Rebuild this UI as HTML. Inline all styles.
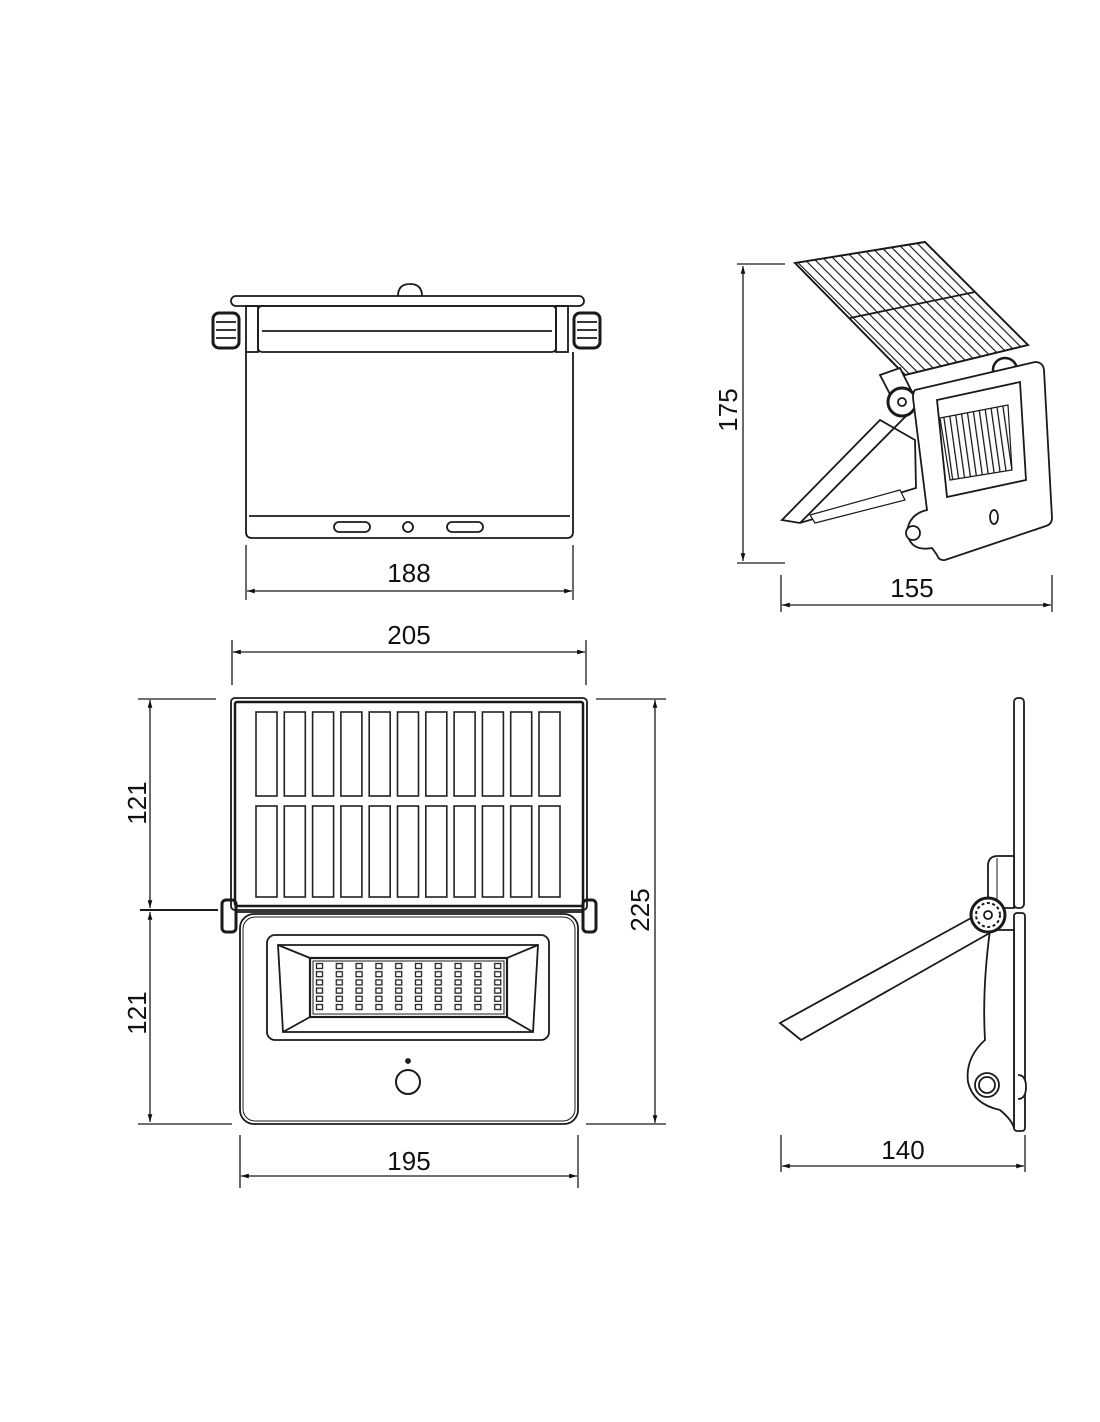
<!DOCTYPE html>
<html><head><style>
body{margin:0;background:#fff}
svg{display:block}
text{font-family:"Liberation Sans",sans-serif;font-size:26px;fill:#111}
</style></head><body>
<svg width="1100" height="1422" viewBox="0 0 1100 1422" xmlns="http://www.w3.org/2000/svg">
<defs>
<marker id="a" viewBox="0 0 10 10" refX="10" refY="5" markerWidth="8" markerHeight="6" orient="auto-start-reverse"><path d="M0,2 L10,5 L0,8z" fill="#111"/></marker>
<pattern id="leds" x="315" y="962" width="19.8" height="8.2" patternUnits="userSpaceOnUse"><rect x="1.5" y="1.5" width="6" height="5" fill="none" stroke="#222" stroke-width="1.3"/></pattern>
<pattern id="stripes" width="7" height="7" patternUnits="userSpaceOnUse" patternTransform="rotate(-45)"><line x1="0" y1="0" x2="0" y2="7" stroke="#111" stroke-width="2.2"/></pattern>
<pattern id="vstr" width="6" height="6" patternUnits="userSpaceOnUse" patternTransform="rotate(-8)"><line x1="0" y1="0" x2="0" y2="6" stroke="#111" stroke-width="2.5"/></pattern>
<g id="col"><rect x="0" y="712" width="21" height="84" fill="none" stroke="#222" stroke-width="1.6"/><rect x="0" y="806" width="21" height="91" fill="none" stroke="#222" stroke-width="1.6"/></g>
</defs>
<g fill="none" stroke="#1a1a1a" stroke-width="1.8">
<!-- TOP VIEW -->
<path d="M398,296 q0,-12 12,-12 q12,0 12,12"/>
<rect x="231" y="296" width="353" height="10" rx="5"/>
<rect x="258" y="306" width="298" height="46" rx="4"/>
<line x1="262" y1="331" x2="552" y2="331"/>
<rect x="246" y="306" width="12" height="46"/><rect x="556" y="306" width="12" height="46"/>
<rect x="213" y="313" width="26" height="35" rx="6" stroke-width="3"/>
<line x1="216" y1="322" x2="236" y2="322"/><line x1="216" y1="330" x2="236" y2="330"/><line x1="216" y1="338" x2="236" y2="338"/>
<rect x="574" y="313" width="26" height="35" rx="6" stroke-width="3"/>
<line x1="577" y1="322" x2="597" y2="322"/><line x1="577" y1="330" x2="597" y2="330"/><line x1="577" y1="338" x2="597" y2="338"/>
<path d="M246,352 V532 q0,6 6,6 H567 q6,0 6,-6 V352"/>
<line x1="249" y1="516" x2="570" y2="516"/>
<rect x="334" y="522" width="36" height="10" rx="5"/>
<rect x="447" y="522" width="36" height="10" rx="5"/>
<circle cx="408" cy="527" r="5"/>
</g>
<g stroke="#1a1a1a" stroke-width="1.3" fill="none">
<line x1="246" y1="545" x2="246" y2="600"/><line x1="573" y1="545" x2="573" y2="600"/>
<line x1="247" y1="591" x2="572" y2="591" marker-start="url(#a)" marker-end="url(#a)"/>
</g>
<text x="409" y="582" text-anchor="middle">188</text>

<!-- ISO VIEW -->
<g stroke="#1a1a1a" stroke-width="1.8">
<polygon points="782,520 880,420 915,440 916,488 800,523" fill="#fff"/>
<line x1="800" y1="523" x2="912" y2="410"/>
<polygon points="810,515 900,490 905,500 815,523" fill="#fff" stroke-width="1.2"/>
<polygon points="795,263 925,242 1028,345 905,375" fill="url(#stripes)"/>
<polygon points="795,263 925,242 1028,345 905,375" fill="none"/>
<line x1="850" y1="318" x2="975" y2="292"/>
<polygon points="880,375 900,368 912,392 892,398" fill="#fff"/>
<circle cx="902" cy="402" r="14" fill="#fff" stroke-width="3"/><circle cx="902" cy="402" r="4" fill="#fff"/>
<circle cx="1005" cy="370" r="12" fill="#fff" stroke-width="2.5"/>
<path d="M915,390 L1035,362 q8,0 9,8 L1052,518 q0,6 -6,8 L945,560 q-6,1 -8,-5 L932,548 q-22,4 -25,-16 q2,-18 20,-22 L913,398 q0,-6 2,-8z" fill="#fff"/>
<circle cx="913" cy="533" r="7" fill="#fff"/>
<path d="M937,400 L1020,382 L1026,480 L947,497z" fill="#fff"/>
<path d="M940,418 L1008,405 L1012,470 L950,480z" fill="url(#vstr)" stroke-width="1.2"/>
<ellipse cx="994" cy="517" rx="4" ry="7" fill="#fff"/>
</g>
<g stroke="#1a1a1a" stroke-width="1.3" fill="none">
<line x1="737" y1="264" x2="785" y2="264"/><line x1="737" y1="563" x2="785" y2="563"/>
<line x1="743" y1="266" x2="743" y2="561" marker-start="url(#a)" marker-end="url(#a)"/>
<line x1="781" y1="575" x2="781" y2="612"/><line x1="1052" y1="575" x2="1052" y2="612"/>
<line x1="782" y1="605" x2="1051" y2="605" marker-start="url(#a)" marker-end="url(#a)"/>
</g>
<text transform="translate(737,410) rotate(-90)" text-anchor="middle">175</text>
<text x="912" y="597" text-anchor="middle">155</text>

<!-- FRONT VIEW -->
<g stroke="#1a1a1a" stroke-width="1.3" fill="none">
<line x1="232" y1="640" x2="232" y2="685"/><line x1="586" y1="640" x2="586" y2="685"/>
<line x1="233" y1="652" x2="585" y2="652" marker-start="url(#a)" marker-end="url(#a)"/>
<line x1="138" y1="699" x2="216" y2="699"/><line x1="138" y1="1124" x2="232" y2="1124"/>
<line x1="140" y1="910" x2="218" y2="910" stroke-width="2"/>
<line x1="150" y1="700" x2="150" y2="908" marker-start="url(#a)" marker-end="url(#a)"/>
<line x1="150" y1="912" x2="150" y2="1122" marker-start="url(#a)" marker-end="url(#a)"/>
<line x1="596" y1="699" x2="666" y2="699"/><line x1="586" y1="1124" x2="666" y2="1124"/>
<line x1="655" y1="700" x2="655" y2="1123" marker-start="url(#a)" marker-end="url(#a)"/>
<line x1="240" y1="1135" x2="240" y2="1188"/><line x1="578" y1="1135" x2="578" y2="1188"/>
<line x1="241" y1="1176" x2="577" y2="1176" marker-start="url(#a)" marker-end="url(#a)"/>
</g>
<text x="409" y="644" text-anchor="middle">205</text>
<text transform="translate(146,803) rotate(-90)" text-anchor="middle">121</text>
<text transform="translate(146,1013) rotate(-90)" text-anchor="middle">121</text>
<text transform="translate(649,910) rotate(-90)" text-anchor="middle">225</text>
<text x="409" y="1170" text-anchor="middle">195</text>

<g stroke="#1a1a1a" stroke-width="1.8" fill="none">
<rect x="231" y="698" width="356" height="212" rx="4"/>
<rect x="235" y="702" width="348" height="204" rx="2" stroke-width="2.5"/>
<use href="#col" x="256"/><use href="#col" x="284.3"/><use href="#col" x="312.6"/><use href="#col" x="340.9"/>
<use href="#col" x="369.2"/><use href="#col" x="397.5"/><use href="#col" x="425.8"/><use href="#col" x="454.1"/>
<use href="#col" x="482.4"/><use href="#col" x="510.7"/><use href="#col" x="539"/>
<line x1="235" y1="912" x2="583" y2="912"/>
<rect x="222" y="900" width="14" height="32" rx="4" stroke-width="3"/>
<rect x="583" y="900" width="13" height="32" rx="4" stroke-width="3"/>
<rect x="240" y="914" width="338" height="210" rx="14"/>
<rect x="243" y="917" width="332" height="204" rx="12" stroke-width="1"/>
<rect x="267" y="935" width="282" height="105" rx="8"/>
<polygon points="278,945 538,945 533,1032 283,1032"/>
<rect x="310" y="958" width="197" height="59" stroke-width="2.2"/>
<rect x="313" y="961" width="191" height="53" stroke-width="1"/>
<rect x="314" y="962" width="190" height="50" fill="url(#leds)" stroke="none"/>
<line x1="278" y1="945" x2="310" y2="958"/><line x1="538" y1="945" x2="507" y2="958"/>
<line x1="283" y1="1032" x2="310" y2="1017"/><line x1="533" y1="1032" x2="507" y2="1017"/>
<circle cx="408" cy="1082" r="12" stroke-width="2"/>
<circle cx="408" cy="1061" r="2" fill="#222"/>
</g>

<!-- SIDE VIEW -->
<g stroke="#1a1a1a" stroke-width="1.8" fill="#fff">
<rect x="1014" y="698" width="10" height="210" rx="4"/>
<path d="M988,908 V866 q0,-10 10,-10 H1014 V908z"/>
<line x1="997" y1="858" x2="997" y2="905" stroke-width="1"/>
<rect x="1014" y="913" width="11" height="218" rx="3"/>
<path d="M1018,1075 q8,0 8,12 q0,12 -8,12"/>
<path d="M990,930 Q982,990 985,1040 Q965,1058 968,1082 Q973,1104 1000,1110 Q1012,1120 1014,1128 V930z"/>
<circle cx="987" cy="1085" r="12"/><circle cx="987" cy="1085" r="8"/>
<polygon points="780,1023 982,912 995,930 801,1040"/>
<circle cx="988" cy="915" r="17" stroke-width="3"/>
<circle cx="988" cy="915" r="12" stroke-width="2" stroke-dasharray="3,2.5"/>
<circle cx="988" cy="915" r="4"/>
</g>
<g stroke="#1a1a1a" stroke-width="1.3" fill="none">
<line x1="781" y1="1135" x2="781" y2="1172"/><line x1="1025" y1="1135" x2="1025" y2="1172"/>
<line x1="782" y1="1166" x2="1024" y2="1166" marker-start="url(#a)" marker-end="url(#a)"/>
</g>
<text x="903" y="1159" text-anchor="middle">140</text>
</svg>
</body></html>
